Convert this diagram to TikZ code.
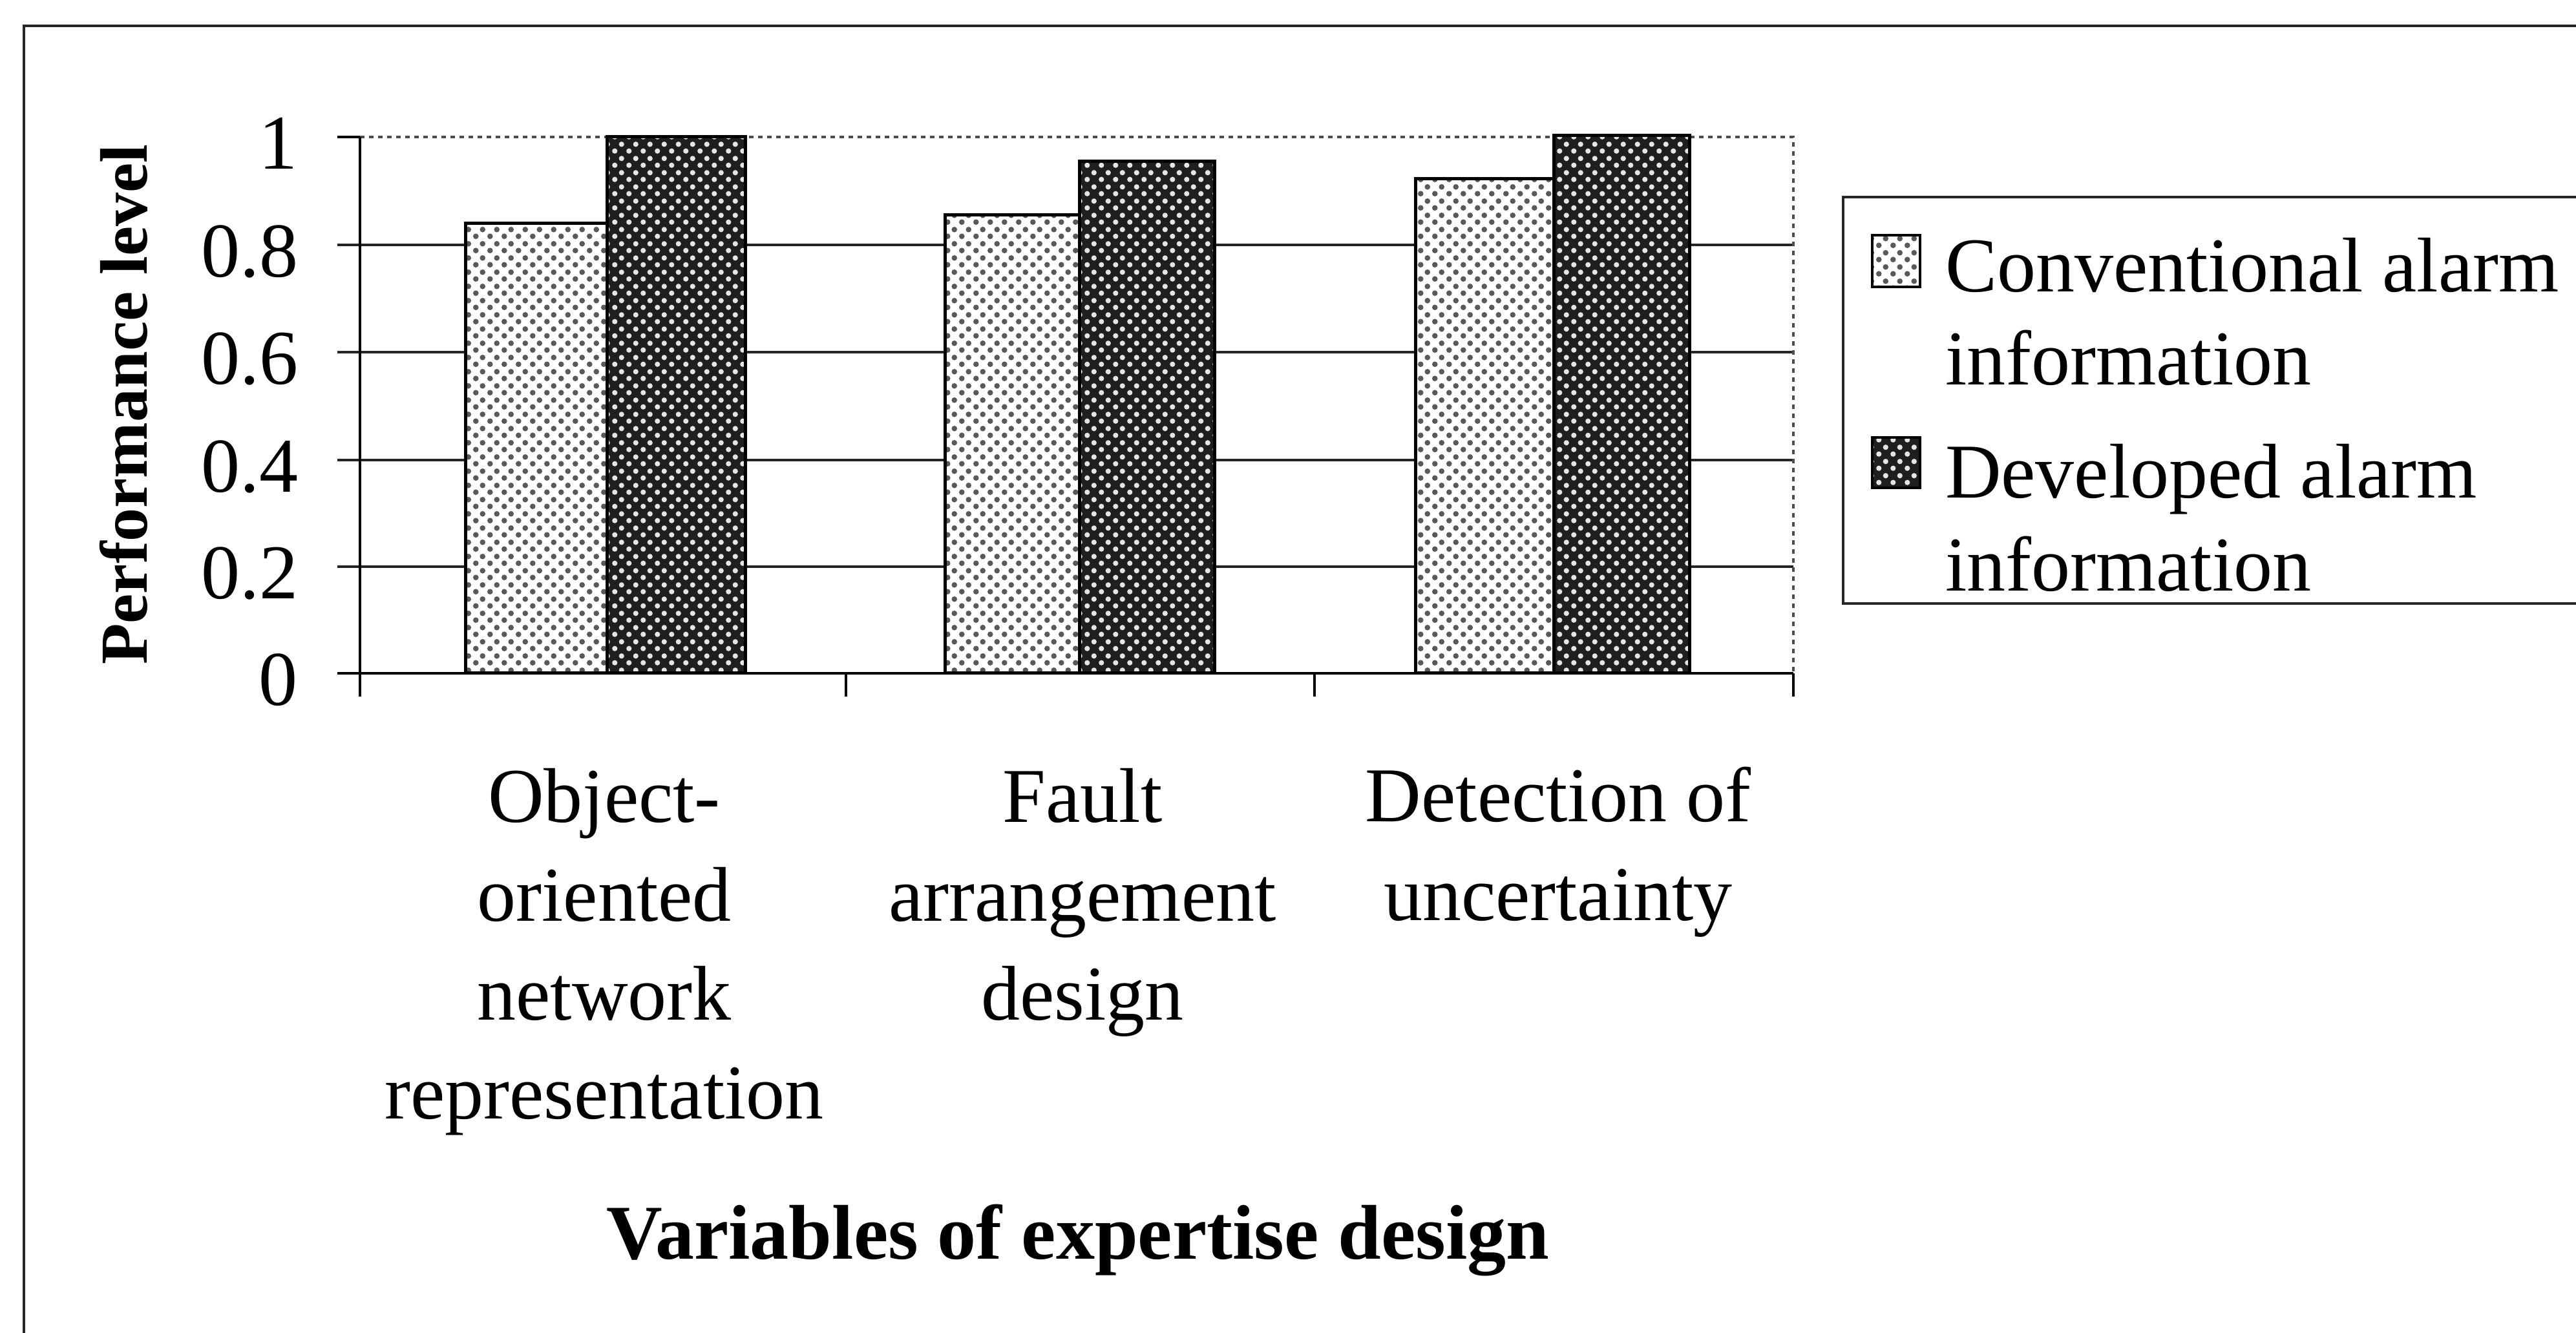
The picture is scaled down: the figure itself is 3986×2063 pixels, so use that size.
\documentclass[tikz,border=0pt]{standalone}
\usepackage{fontspec}
\setmainfont{Liberation Serif}
\usetikzlibrary{patterns.meta}
\pgfdeclarepattern{
  name=lightdots, type=uncolored,
  bottom left={\pgfpoint{0pt}{0pt}}, top right={\pgfpoint{2.15pt}{2.15pt}},
  tile size={\pgfpoint{2.15pt}{2.15pt}},
  code={
    \pgfpathcircle{\pgfpoint{0.54pt}{0.54pt}}{0.44pt}
    \pgfpathcircle{\pgfpoint{1.61pt}{1.61pt}}{0.44pt}
    \pgfusepath{fill}
  }
}
\pgfdeclarepattern{
  name=darkdots, type=uncolored,
  bottom left={\pgfpoint{0pt}{0pt}}, top right={\pgfpoint{2.15pt}{2.15pt}},
  tile size={\pgfpoint{2.15pt}{2.15pt}},
  code={
    \pgfpathcircle{\pgfpoint{0.54pt}{0.54pt}}{0.42pt}
    \pgfpathcircle{\pgfpoint{1.61pt}{1.61pt}}{0.42pt}
    \pgfusepath{fill}
  }
}
\begin{document}
\begin{tikzpicture}[x=0.1pt,y=-0.1pt,
  txt/.style={inner sep=0pt, font=\fontsize{12}{15.3}\selectfont},
  ticklab/.style={txt, anchor=base east},
  catlab/.style={txt, align=center, anchor=north},
  leglab/.style={txt, align=left, anchor=north west, font=\fontsize{12}{14.4}\selectfont},
  gridln/.style={line width=0.42pt, black!85},
  axisln/.style={line width=0.42pt, black},
  borderln/.style={line width=0.35pt, black!70, dash pattern=on 0.7pt off 0.7pt},
  framel/.style={line width=0.45pt, black!85},
  convbar/.style={preaction={fill=white}, pattern=lightdots, pattern color=black!65, draw=black, line width=0.5pt},
  devbar/.style={preaction={fill=black!88}, pattern=darkdots, pattern color=white!90!black, draw=black, line width=0.5pt}
]
\useasboundingbox (0,0) rectangle (3986,2063);
\fill[white] (0,0) rectangle (3986,2063);

% outer frame (cropped)
\draw[framel] (3996,40) -- (37,40) -- (37,2073);

% gridlines
\foreach \gy in {379,545,712,877}{
  \draw[gridln] (522,\gy) -- (2775,\gy);
}
% plot area border (dotted)
\draw[borderln] (557,212) -- (2775,212) -- (2775,1042);
\draw[axisln] (522,212) -- (557,212);
% axes
\draw[axisln] (557,212) -- (557,1078);
\draw[axisln] (522,1042) -- (2775,1042);
\foreach \tx in {1309,2034,2775}{
  \draw[axisln] (\tx,1042) -- (\tx,1078);
}

% bars
\draw[convbar] (720,1042) rectangle (939,346) coordinate (c1);
\draw[devbar]  (939,1042) rectangle (1153,212) coordinate (d1);
\draw[convbar] (1462,1042) rectangle (1670,333) coordinate (c2);
\draw[devbar]  (1670,1042) rectangle (1879,250) coordinate (d2);
\draw[convbar] (2190,1042) rectangle (2404,277) coordinate (c3);
\draw[devbar]  (2404,1042) rectangle (2614,210) coordinate (d3);

% y tick labels
\node[ticklab] (t0) at (463,1092) {0};
\node[ticklab] (t2) at (463,927) {0.2};
\node[ticklab] (t4) at (463,762) {0.4};
\node[ticklab] (t6) at (463,595) {0.6};
\node[ticklab] (t8) at (463,429) {0.8};
\node[ticklab] (t10) at (463,262) {1};

% y axis title
\node[txt, rotate=90, anchor=base, font=\fontsize{10.4}{12}\selectfont\bfseries] (ytitle) at (228,626) {Performance level};

% category labels
\node[catlab] (cat1) at (935,1187) {Object-\\oriented\\network\\representation};
\node[catlab] (cat2) at (1675,1187) {Fault\\arrangement\\design};
\node[catlab] (cat3) at (2411,1185) {Detection of\\uncertainty};

% x axis title
\node[txt, anchor=base, font=\fontsize{12}{14}\selectfont\bfseries] (xtitle) at (1668,1949) {Variables of expertise design};

% legend
\draw[framel] (3996,305) -- (2852,305) -- (2852,934) -- (3996,934);
\draw[convbar, line width=0.4pt] (2897,364) rectangle (2971,444);
\draw[devbar, line width=0.4pt] (2897,677) rectangle (2971,755);
\node[leglab] (leg1) at (3008,366) {Conventional alarm\\information};
\node[leglab] (leg2) at (3008,685) {Developed alarm\\information};
\end{tikzpicture}
\end{document}
